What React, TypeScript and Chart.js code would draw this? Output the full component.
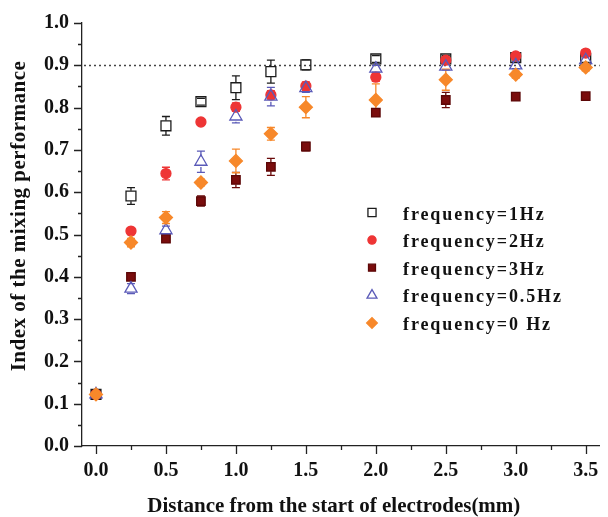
import React, { useEffect, useRef } from 'react';
import { Chart, registerables } from 'chart.js';
import { drawPoint } from 'chart.js/helpers';

Chart.register(...registerables);

// ---------------- data ----------------
const DISTANCE = [0, 0.25, 0.5, 0.75, 1.0, 1.25, 1.5, 2.0, 2.5, 3.0, 3.5];

const F1HZ = [0.122, 0.591, 0.757, 0.814, 0.847, 0.885, 0.901, 0.915, 0.915, 0.918, 0.915];
const F1HZ_ERR = [0.005, 0.02, 0.022, 0.008, 0.028, 0.027, 0.012, 0.008, 0.008, 0.008, 0.008];

const F2HZ = [0.122, 0.508, 0.644, 0.766, 0.801, 0.83, 0.851, 0.872, 0.912, 0.922, 0.929];
const F2HZ_ERR = [0.005, 0.008, 0.015, 0.006, 0.01, 0.01, 0.01, 0.01, 0.008, 0.008, 0.008];

const F3HZ = [0.122, 0.4, 0.49, 0.579, 0.629, 0.66, 0.708, 0.788, 0.818, 0.826, 0.827];
const F3HZ_ERR = [0.005, 0.008, 0.008, 0.012, 0.018, 0.02, 0.01, 0.008, 0.018, 0.008, 0.006];

const F05HZ = [0.122, 0.372, 0.51, 0.672, 0.779, 0.826, 0.846, 0.892, 0.897, 0.9, 0.912];
const F05HZ_ERR = [0.005, 0.012, 0.01, 0.025, 0.015, 0.022, 0.01, 0.008, 0.008, 0.008, 0.008];

const F0HZ = [0.122, 0.481, 0.54, 0.623, 0.674, 0.738, 0.801, 0.818, 0.866, 0.878, 0.895];
const F0HZ_ERR = [0.005, 0.01, 0.014, 0.008, 0.028, 0.015, 0.025, 0.038, 0.025, 0.008, 0.008];

const LABELS = ['frequency=1Hz', 'frequency=2Hz', 'frequency=3Hz', 'frequency=0.5Hz', 'frequency=0 Hz'];

const X_TICKS = [0, 0.5, 1.0, 1.5, 2.0, 2.5, 3.0, 3.5];
const X_MINOR = [0.25, 0.75, 1.25, 1.75, 2.25, 2.75, 3.25];
const Y_TICKS = [0, 0.1, 0.2, 0.3, 0.4, 0.5, 0.6, 0.7, 0.8, 0.9, 1.0];
const Y_MINOR = [0.05, 0.15, 0.25, 0.35, 0.45, 0.55, 0.65, 0.75, 0.85, 0.95];
const THRESHOLD = 0.9;

const X_TITLE = 'Distance from the start of electrodes(mm)';
const Y_TITLE = 'Index of the mixing performance';

// ---------------- styles ----------------
const SERIF = "'Liberation Serif', 'Times New Roman', serif";

type Style = { style: string; radius: number; fill: string; stroke: string; order: number };
const STYLES: Style[] = [
  { style: 'rect', radius: 7, fill: 'rgba(0,0,0,0)', stroke: '#1c1c1c', order: 3 },
  { style: 'circle', radius: 5, fill: '#ee3535', stroke: '#ee3535', order: 2 },
  { style: 'rect', radius: 6, fill: '#7a0d0d', stroke: '#5c0707', order: 4 },
  { style: 'triangle', radius: 7, fill: 'rgba(0,0,0,0)', stroke: '#5a5ab8', order: 1 },
  { style: 'rectRot', radius: 6.5, fill: '#f7882a', stroke: '#f7882a', order: 0 },
];
const ERR_COLORS = ['#1c1c1c', '#ee3535', '#6a0a0a', '#5a5ab8', '#f7882a'];

const VALUES = [F1HZ, F2HZ, F3HZ, F05HZ, F0HZ];
const ERRORS = [F1HZ_ERR, F2HZ_ERR, F3HZ_ERR, F05HZ_ERR, F0HZ_ERR];

const decorPlugin = {
  id: 'decor',
  beforeDatasetsDraw(chart: any) {
    const { ctx, chartArea, scales } = chart;
    const xs = scales.x;
    const ys = scales.y;
    // dotted threshold line
    ctx.save();
    ctx.strokeStyle = '#444';
    ctx.lineWidth = 1.4;
    ctx.setLineDash([2, 3]);
    const ty = Math.round(ys.getPixelForValue(THRESHOLD)) + 0.5;
    ctx.beginPath();
    ctx.moveTo(chartArea.left + 2, ty);
    ctx.lineTo(chartArea.right, ty);
    ctx.stroke();
    ctx.restore();

    // error bars
    ctx.save();
    ctx.lineWidth = 1.3;
    VALUES.forEach((vals, si) => {
      const errs = ERRORS[si];
      const st = STYLES[si];
      const h = st.radius * 0.75;
      ctx.strokeStyle = ERR_COLORS[si];
      vals.forEach((v, i) => {
        const e = errs[i];
        const px = xs.getPixelForValue(DISTANCE[i]);
        const py = ys.getPixelForValue(v);
        const top = ys.getPixelForValue(v + e);
        const bot = ys.getPixelForValue(v - e);
        ctx.beginPath();
        if (py - top > h) {
          ctx.moveTo(px, top);
          ctx.lineTo(px, py - h);
        }
        if (bot - py > h) {
          ctx.moveTo(px, py + h);
          ctx.lineTo(px, bot);
        }
        ctx.moveTo(px - 4, top);
        ctx.lineTo(px + 4, top);
        ctx.moveTo(px - 4, bot);
        ctx.lineTo(px + 4, bot);
        ctx.stroke();
      });
    });
    ctx.restore();
  },
  afterDraw(chart: any) {
    const { ctx, chartArea, scales } = chart;
    const xs = scales.x;
    const ys = scales.y;
    ctx.save();
    ctx.strokeStyle = '#222';
    ctx.lineWidth = 1.3;
    ctx.beginPath();
    X_TICKS.forEach((v) => {
      const p = Math.round(xs.getPixelForValue(v)) + 0.5;
      ctx.moveTo(p, chartArea.bottom);
      ctx.lineTo(p, chartArea.bottom + 8);
    });
    X_MINOR.forEach((v) => {
      const p = Math.round(xs.getPixelForValue(v)) + 0.5;
      ctx.moveTo(p, chartArea.bottom);
      ctx.lineTo(p, chartArea.bottom + 4);
    });
    Y_TICKS.forEach((v) => {
      const p = Math.round(ys.getPixelForValue(v)) + 0.5;
      ctx.moveTo(chartArea.left, p);
      ctx.lineTo(chartArea.left - 8, p);
    });
    Y_MINOR.forEach((v) => {
      const p = Math.round(ys.getPixelForValue(v)) + 0.5;
      ctx.moveTo(chartArea.left, p);
      ctx.lineTo(chartArea.left - 4, p);
    });
    ctx.stroke();
    ctx.restore();

    // axis titles
    ctx.save();
    ctx.fillStyle = '#111';
    ctx.font = `bold 21px ${SERIF}`;
    ctx.textAlign = 'center';
    ctx.textBaseline = 'middle';
    ctx.fillText(X_TITLE, chartArea.left + (chartArea.right - chartArea.left) / 2 - 7, 507);
    ctx.translate(20, chartArea.top + 193);
    ctx.rotate(-Math.PI / 2);
    (ctx as any).letterSpacing = '0.5px';
    ctx.fillText(Y_TITLE, 0, 0);
    ctx.restore();

    // legend
    ctx.save();
    const lx = chartArea.left + 290;
    const ly0 = chartArea.top + 189.5;
    const step = 27.6;
    LABELS.forEach((lab, i) => {
      const st = STYLES[i];
      const y = ly0 + i * step;
      ctx.fillStyle = st.fill === 'rgba(0,0,0,0)' ? '#fff' : st.fill;
      ctx.strokeStyle = st.stroke;
      ctx.lineWidth = 1.3;
      drawPoint(ctx, { pointStyle: st.style, radius: st.radius * 0.82, rotation: 0, borderWidth: 1.3 } as any, lx, y);
      ctx.fillStyle = '#111';
      ctx.font = `bold 18px ${SERIF}`;
      ctx.textAlign = 'left';
      ctx.textBaseline = 'alphabetic';
      (ctx as any).letterSpacing = '1.9px';
      ctx.fillText(lab, lx + 31, y + 7);
    });
    ctx.restore();
  },
};

export default function App() {
  const ref = useRef<HTMLCanvasElement | null>(null);
  useEffect(() => {
    if (!ref.current) return;
    const datasets = VALUES.map((vals, si) => ({
      label: LABELS[si],
      data: vals.map((v, i) => ({ x: DISTANCE[i], y: v })),
      pointStyle: STYLES[si].style,
      pointRadius: STYLES[si].radius,
      pointHoverRadius: STYLES[si].radius,
      pointBackgroundColor: STYLES[si].fill,
      pointBorderColor: STYLES[si].stroke,
      pointBorderWidth: 1.3,
      showLine: false,
      order: STYLES[si].order,
    }));
    const chart = new Chart(ref.current, {
      type: 'scatter',
      data: { datasets },
      options: {
        animation: false,
        responsive: false,
        layout: { padding: { top: 23, right: 0, left: 0, bottom: 0 } },
        plugins: { legend: { display: false }, tooltip: { enabled: false } },
        scales: {
          x: {
            type: 'linear',
            min: -0.1,
            max: 3.6,
            grid: { display: false, drawTicks: false },
            border: { display: true, color: '#222', width: 1.3 },
            afterBuildTicks: (s: any) => {
              s.ticks = X_TICKS.map((v) => ({ value: v }));
            },
            ticks: {
              padding: 13,
              color: '#111',
              font: { family: SERIF, size: 20, weight: 'bold' },
              maxRotation: 0,
              autoSkip: false,
              callback: (v: any) => Number(v).toFixed(1),
            },
            afterFit: (s: any) => {
              s.height = 71;
              s.paddingLeft = 0;
              s.paddingRight = 0;
            },
          },
          y: {
            type: 'linear',
            min: 0,
            max: 1.0,
            grid: { display: false, drawTicks: false },
            border: { display: true, color: '#222', width: 1.3 },
            afterBuildTicks: (s: any) => {
              s.ticks = Y_TICKS.map((v) => ({ value: v }));
            },
            ticks: {
              padding: 13,
              color: '#111',
              font: { family: SERIF, size: 20, weight: 'bold' },
              autoSkip: false,
              callback: (v: any) => Number(v).toFixed(1),
            },
            afterFit: (s: any) => {
              s.width = 82;
              s.paddingTop = 0;
              s.paddingBottom = 0;
            },
          },
        },
      },
      plugins: [decorPlugin],
    } as any);
    return () => chart.destroy();
  }, []);
  return (
    <div style={{ position: 'absolute', left: 0, top: 0, width: 608, height: 517, background: '#fff' }}>
      <canvas ref={ref} width={608} height={517} style={{ display: 'block' }} />
    </div>
  );
}
